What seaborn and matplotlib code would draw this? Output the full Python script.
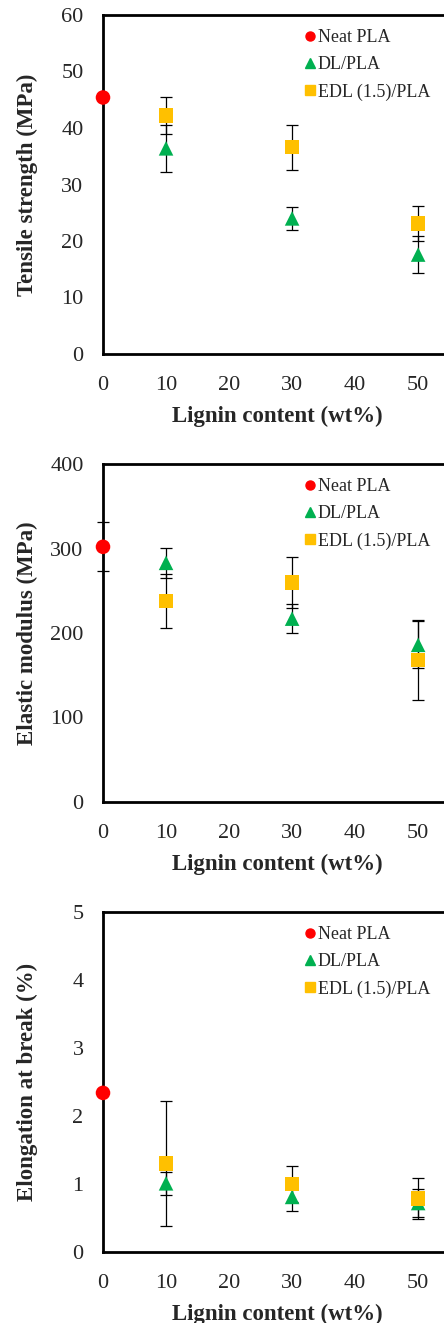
import numpy as np
import pandas as pd
import seaborn as sns
import matplotlib.pyplot as plt
from matplotlib.lines import Line2D

# lignin contents (wt%)
neat_x = [0]
blend_x = [10, 30, 50]

# tensile strength (MPa)
ts_neat = [45.4]
ts_neat_err = [0.0]
ts_dl = [36.4, 24.0, 17.6]
ts_dl_err = [4.1, 2.1, 3.2]
ts_edl = [42.2, 36.6, 23.1]
ts_edl_err = [3.2, 4.0, 3.1]

# elastic modulus (MPa)
em_neat = [302]
em_neat_err = [29]
em_dl = [283, 217, 186]
em_dl_err = [18, 17, 28]
em_edl = [238, 260, 168]
em_edl_err = [32, 30, 47]

# elongation at break (%)
eb_neat = [2.34]
eb_neat_err = [0.0]
eb_dl = [1.01, 0.81, 0.72]
eb_dl_err = [0.17, 0.21, 0.20]
eb_edl = [1.30, 1.00, 0.79]
eb_edl_err = [0.92, 0.27, 0.30]

series_names = ['Neat PLA', 'DL/PLA', 'EDL (1.5)/PLA']
colors = {'Neat PLA': '#FF0000', 'DL/PLA': '#00B050', 'EDL (1.5)/PLA': '#FFC000'}
markers = {'Neat PLA': 'o', 'DL/PLA': '^', 'EDL (1.5)/PLA': 's'}

panels = [
    ('Tensile strength (MPa)', (ts_neat, ts_neat_err), (ts_dl, ts_dl_err), (ts_edl, ts_edl_err), 60, 10),
    ('Elastic modulus (MPa)', (em_neat, em_neat_err), (em_dl, em_dl_err), (em_edl, em_edl_err), 400, 100),
    ('Elongation at break (%)', (eb_neat, eb_neat_err), (eb_dl, eb_dl_err), (eb_edl, eb_edl_err), 5, 1),
]

sns.set_style('white')
plt.rcParams['font.family'] = ['Liberation Serif', 'DejaVu Serif']

W, H = 444, 1323
fig = plt.figure(figsize=(W / 100, H / 100), dpi=100)

# pixel boxes of each axes: (top, bottom)
boxes = [(15, 354), (464, 802), (912, 1252)]
left_px = 103
xmax = 54.1
ax_w = W - left_px

for (ylab, neat, dl, edl, ymax, ystep), (top, bot) in zip(panels, boxes):
    ax = fig.add_axes([left_px / W, 1 - bot / H, ax_w / W, (bot - top) / H])

    rows = []
    for name, xs, (vals, errs) in [('Neat PLA', neat_x, neat), ('DL/PLA', blend_x, dl),
                                   ('EDL (1.5)/PLA', blend_x, edl)]:
        for x, v, e in zip(xs, vals, errs):
            rows.append({'x': x, 'y': v, 'err': e, 'series': name})
    df = pd.DataFrame(rows)

    for name in series_names:
        d = df[df.series == name]
        ax.errorbar(d.x, d.y, yerr=d.err, fmt='none', ecolor='black', elinewidth=0.9,
                    capsize=4.5, capthick=0.9, zorder=2, clip_on=False)

    sns.scatterplot(data=df, x='x', y='y', hue='series', style='series',
                    palette=colors, markers=markers, hue_order=series_names,
                    style_order=series_names, s=110, linewidth=0, legend=False,
                    ax=ax, zorder=3, clip_on=False)

    ax.set_xlim(0, xmax)
    ax.set_ylim(0, ymax)
    ax.set_xticks([0, 10, 20, 30, 40, 50])
    ax.set_yticks(np.arange(0, ymax + ystep / 2, ystep))
    ax.tick_params(direction='in', length=5, width=2, labelsize=16, pad=16, color='black')
    ax.tick_params(axis='y', pad=14)
    for s in ['left', 'top', 'bottom']:
        ax.spines[s].set_linewidth(2)
        ax.spines[s].set_color('black')
    ax.spines['right'].set_visible(False)

    ax.set_xlabel('Lignin content (wt%)', fontsize=16.5, fontweight='bold')
    ax.set_ylabel(ylab, fontsize=16.5, fontweight='bold')
    ax.yaxis.set_label_coords((38 - left_px) / ax_w, 0.5)
    ax.xaxis.set_label_coords((277 - left_px) / ax_w, -52 / (bot - top))

    handles = [Line2D([], [], linestyle='none', marker=markers[n], color=colors[n],
                      markersize=6.5, label=n) for n in series_names]
    ax.legend(handles=handles, loc='upper left', bbox_to_anchor=(0.555, 1.0),
              frameon=False, fontsize=13, handlelength=0.4, handletextpad=0.2,
              labelspacing=0.55, borderpad=0.3)

fig.savefig('out.png', dpi=100)
